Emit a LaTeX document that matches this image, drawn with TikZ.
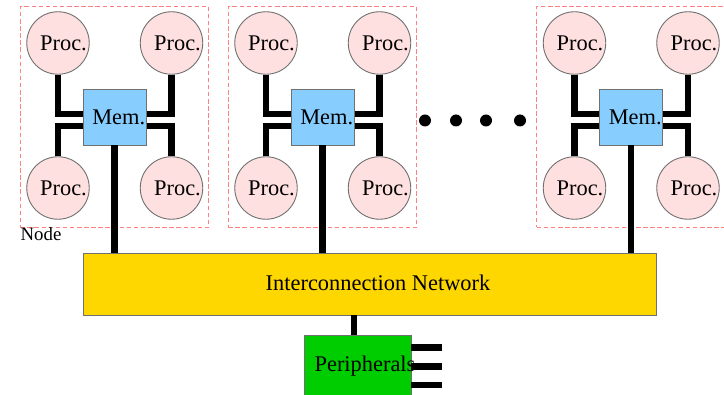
\documentclass[tikz,border=0pt]{standalone}
\usepackage{fontspec}
\setmainfont{Liberation Serif}
\definecolor{procfill}{HTML}{FFE0E0}
\definecolor{memfill}{HTML}{87CEFF}
\definecolor{netfill}{HTML}{FFD700}
\definecolor{perfill}{HTML}{00CD00}
\definecolor{edgegray}{HTML}{707070}
\definecolor{dashred}{HTML}{FF8080}
\tikzset{
  proc/.style={circle,draw=edgegray,fill=procfill,line width=0.9pt,minimum size=62.5pt,inner sep=0pt},
  rectbox/.style={rectangle,draw=edgegray,line width=0.9pt,inner sep=0pt},
  memb/.style={rectbox,fill=memfill,minimum width=63pt,minimum height=56pt},
  wire/.style={line width=6.5pt,black,line cap=butt,line join=miter},
  stub/.style={line width=6.5pt,black},
  nodebox/.style={rectangle,draw=dashred,dash pattern=on 4.5pt off 2.6pt,line width=1pt,minimum width=188.5pt,minimum height=221pt,inner sep=0pt},
  txt/.style={anchor=base,inner sep=0pt,font=\fontsize{22.4pt}{26pt}\selectfont},
  dotn/.style={circle,fill=black,minimum size=12pt,inner sep=0pt},
}
\begin{document}
\begin{tikzpicture}[x=1pt,y=-1pt]
\useasboundingbox (0,0) rectangle (724,395);
\clip (0,0) rectangle (724,395);
\node[rectbox,fill=netfill,minimum width=573.5pt,minimum height=62pt] (net) at (369.8,284) {};
\node[rectbox,fill=perfill,minimum width=107pt,minimum height=64pt] (per) at (357.5,367) {};
\foreach \n/\o in {a/0,b/208,c/516.5}{
  \begin{scope}[xshift=\o pt]
    \node[nodebox] (box\n) at (114.5,117) {};
    \node[proc] (ul\n) at (58,43) {};
    \node[proc] (ur\n) at (171.5,43) {};
    \node[proc] (ll\n) at (58,188) {};
    \node[proc] (lr\n) at (171.5,188) {};
    \coordinate (mul\n) at (84,114);
    \coordinate (mur\n) at (145,114);
    \coordinate (mll\n) at (84,126.2);
    \coordinate (mlr\n) at (145,126.2);
    \draw[wire] (ul\n.south) |- (mul\n);
    \draw[wire] (ur\n.south) |- (mur\n);
    \draw[wire] (ll\n.north) |- (mll\n);
    \draw[wire] (lr\n.north) |- (mlr\n);
    \node[memb] (mem\n) at (114.5,117) {};
    \draw[wire] (mem\n.south) -- (mem\n.south |- net.north);
    \node[txt] (tul\n) at (63.5,50.7) {Proc.};
    \node[txt] (tur\n) at (177.5,50.7) {Proc.};
    \node[txt] (tll\n) at (63.5,195.7) {Proc.};
    \node[txt] (tlr\n) at (177.5,195.7) {Proc.};
    \node[txt] (tm\n) at (118.7,124.7) {Mem.};
  \end{scope}
}
\node[anchor=base,inner sep=0pt,font=\fontsize{18.8pt}{22pt}\selectfont] (nodelabel) at (41,240.5) {Node};
\foreach \i/\x in {1/425,2/456,3/486,4/520}{
  \node[dotn] (dot\i) at (\x,120.5) {};
}
\coordinate (pnet) at (354,315);
\coordinate (pper) at (354,335);
\draw[stub] (pnet) -- (pper);
\coordinate (s1) at (442,347.5);
\coordinate (s2) at (442,366.5);
\coordinate (s3) at (442,385);
\draw[stub] (per.east |- s1) -- (s1);
\draw[stub] (per.east |- s2) -- (s2);
\draw[stub] (per.east |- s3) -- (s3);
\node[txt] (nettext) at (378,290.7) {Interconnection Network};
\node[txt] (pertext) at (365,371.7) {Peripherals};
\end{tikzpicture}
\end{document}
